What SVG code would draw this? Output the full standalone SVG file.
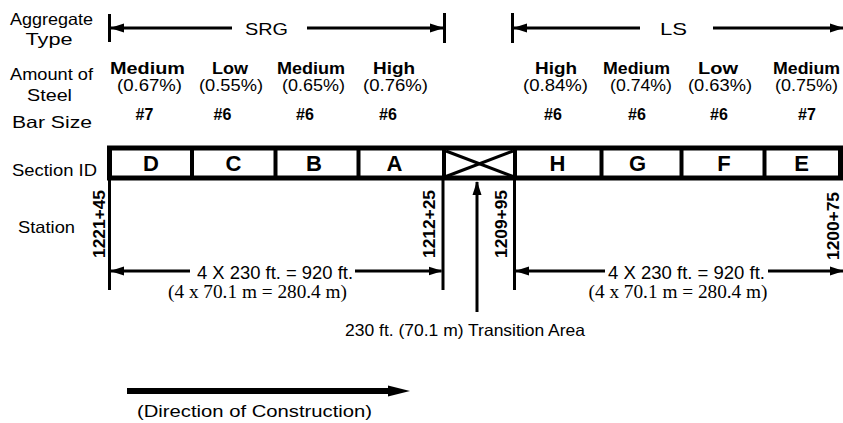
<svg xmlns="http://www.w3.org/2000/svg" width="843" height="423" viewBox="0 0 843 423">
<style>
text{font-family:"Liberation Sans",Arial,Helvetica,sans-serif;fill:#000}
.lbl{font-size:16.5px;text-anchor:middle}
.hd{font-size:16px;font-weight:bold;text-anchor:middle}
.pc{font-size:16.5px;text-anchor:middle}
.bs{font-size:16px;font-weight:bold;text-anchor:middle}
.sec{font-size:22px;font-weight:bold;text-anchor:middle}
.sta{font-size:17px;font-weight:bold;text-anchor:middle}
.dim{font-size:18.5px;text-anchor:middle}
.ser{font-family:"Liberation Serif","Times New Roman",serif;font-size:18.5px;text-anchor:middle}
.ln{stroke:#000;stroke-width:3;fill:none}
.bar{stroke:#000;stroke-width:5;fill:#fff}
.dv{stroke:#000;stroke-width:4}
</style>
<defs>
<marker id="ah" viewBox="0 0 14 10" refX="13" refY="5" markerWidth="14" markerHeight="10" markerUnits="userSpaceOnUse" orient="auto-start-reverse">
<path d="M0,0.5 L14,5 L0,9.5 Z" fill="#000"/>
</marker>
</defs>

<g id="row-labels">
<text class="lbl" x="51.5" y="25" textLength="83" lengthAdjust="spacingAndGlyphs">Aggregate</text>
<text class="lbl" x="49" y="45" textLength="47" lengthAdjust="spacingAndGlyphs">Type</text>
<text class="lbl" x="51.5" y="80" textLength="83" lengthAdjust="spacingAndGlyphs">Amount of</text>
<text class="lbl" x="49.5" y="101" textLength="45" lengthAdjust="spacingAndGlyphs">Steel</text>
<text class="lbl" x="52" y="128" textLength="80" lengthAdjust="spacingAndGlyphs">Bar Size</text>
<text class="lbl" x="54.5" y="176" textLength="85" lengthAdjust="spacingAndGlyphs">Section ID</text>
<text class="lbl" x="46.5" y="233" textLength="57" lengthAdjust="spacingAndGlyphs">Station</text>
</g>

<g id="aggregate-srg">
<line class="ln" x1="109.5" y1="14" x2="109.5" y2="42"/>
<line class="ln" x1="444.5" y1="13" x2="444.5" y2="43"/>
<text class="lbl" x="266.5" y="35" textLength="43" lengthAdjust="spacingAndGlyphs">SRG</text>
</g>
<g id="aggregate-ls">
<line class="ln" x1="512.5" y1="13" x2="512.5" y2="43"/>
<text class="lbl" x="673.5" y="35" textLength="27" lengthAdjust="spacingAndGlyphs">LS</text>
</g>

<g id="steel">
<text class="hd" x="147.5" y="74" textLength="75" lengthAdjust="spacingAndGlyphs">Medium</text>
<text class="hd" x="230" y="74" textLength="36" lengthAdjust="spacingAndGlyphs">Low</text>
<text class="hd" x="311" y="74" textLength="68" lengthAdjust="spacingAndGlyphs">Medium</text>
<text class="hd" x="394" y="74" textLength="42" lengthAdjust="spacingAndGlyphs">High</text>
<text class="hd" x="556" y="74" textLength="42" lengthAdjust="spacingAndGlyphs">High</text>
<text class="hd" x="636.5" y="74" textLength="67" lengthAdjust="spacingAndGlyphs">Medium</text>
<text class="hd" x="718" y="74" textLength="40" lengthAdjust="spacingAndGlyphs">Low</text>
<text class="hd" x="806.5" y="74" textLength="67" lengthAdjust="spacingAndGlyphs">Medium</text>
<text class="pc" x="149.5" y="91" textLength="65" lengthAdjust="spacingAndGlyphs">(0.67%)</text>
<text class="pc" x="231" y="91" textLength="64" lengthAdjust="spacingAndGlyphs">(0.55%)</text>
<text class="pc" x="313.5" y="91" textLength="63" lengthAdjust="spacingAndGlyphs">(0.65%)</text>
<text class="pc" x="395.5" y="91" textLength="65" lengthAdjust="spacingAndGlyphs">(0.76%)</text>
<text class="pc" x="555.5" y="91" textLength="65" lengthAdjust="spacingAndGlyphs">(0.84%)</text>
<text class="pc" x="641" y="91" textLength="62" lengthAdjust="spacingAndGlyphs">(0.74%)</text>
<text class="pc" x="720" y="91" textLength="64" lengthAdjust="spacingAndGlyphs">(0.63%)</text>
<text class="pc" x="806.5" y="91" textLength="63" lengthAdjust="spacingAndGlyphs">(0.75%)</text>
</g>

<g id="bar-size">
<text class="bs" x="144.5" y="120">#7</text>
<text class="bs" x="222.5" y="120">#6</text>
<text class="bs" x="305" y="120">#6</text>
<text class="bs" x="388" y="120">#6</text>
<text class="bs" x="553" y="120">#6</text>
<text class="bs" x="637" y="120">#6</text>
<text class="bs" x="719" y="120">#6</text>
<text class="bs" x="807" y="120">#7</text>
</g>

<g id="sections">
<rect class="bar" x="109.5" y="148" width="731" height="30"/>
<line class="dv" x1="192" y1="148" x2="192" y2="178"/>
<line class="dv" x1="275.5" y1="148" x2="275.5" y2="178"/>
<line class="dv" x1="358.5" y1="148" x2="358.5" y2="178"/>
<line class="dv" x1="444" y1="148" x2="444" y2="178"/>
<line class="dv" x1="515" y1="148" x2="515" y2="178"/>
<line class="dv" x1="601.5" y1="148" x2="601.5" y2="178"/>
<line class="dv" x1="681.5" y1="148" x2="681.5" y2="178"/>
<line class="dv" x1="764.5" y1="148" x2="764.5" y2="178"/>
<line class="ln" x1="446" y1="151" x2="513" y2="176.5"/>
<line class="ln" x1="446" y1="176.5" x2="513" y2="151"/>
<text class="sec" x="151" y="171">D</text>
<text class="sec" x="233.5" y="171">C</text>
<text class="sec" x="314" y="171">B</text>
<text class="sec" x="394.5" y="171">A</text>
<text class="sec" x="557.5" y="171">H</text>
<text class="sec" x="637.5" y="171">G</text>
<text class="sec" x="724" y="171">F</text>
<text class="sec" x="801.5" y="171">E</text>
</g>

<g id="stations">
<text class="sta" transform="translate(104.5,224) rotate(-90)" textLength="68" lengthAdjust="spacingAndGlyphs">1221+45</text>
<text class="sta" transform="translate(435,224) rotate(-90)" textLength="68" lengthAdjust="spacingAndGlyphs">1212+25</text>
<text class="sta" transform="translate(507,224) rotate(-90)" textLength="68" lengthAdjust="spacingAndGlyphs">1209+95</text>
<text class="sta" transform="translate(839,226) rotate(-90)" textLength="68" lengthAdjust="spacingAndGlyphs">1200+75</text>
</g>

<g id="dimensions">
<text class="dim" x="275" y="279" textLength="156" lengthAdjust="spacingAndGlyphs">4 X 230 ft. = 920 ft.</text>
<text class="ser" x="257.5" y="298" textLength="179" lengthAdjust="spacingAndGlyphs">(4 x 70.1 m = 280.4 m)</text>
<text class="dim" x="686.5" y="279" textLength="157" lengthAdjust="spacingAndGlyphs">4 X 230 ft. = 920 ft.</text>
<text class="ser" x="678" y="298" textLength="179" lengthAdjust="spacingAndGlyphs">(4 x 70.1 m = 280.4 m)</text>
<text class="lbl" x="465" y="336" textLength="240" lengthAdjust="spacingAndGlyphs">230 ft. (70.1 m) Transition Area</text>
</g>

<g id="direction">
<line x1="127" y1="391" x2="392" y2="391" stroke="#000" stroke-width="6"/>
<polygon points="388,385.5 410,391 388,396.5" fill="#000"/>
<text class="lbl" x="254.5" y="417" textLength="235" lengthAdjust="spacingAndGlyphs">(Direction of Construction)</text>
</g>

<g id="connectors">
<line class="ln" x1="111" y1="28" x2="232" y2="28" marker-start="url(#ah)"/>
<line class="ln" x1="307" y1="28" x2="443" y2="28" marker-end="url(#ah)"/>
<line class="ln" x1="514" y1="28" x2="640" y2="28" marker-start="url(#ah)"/>
<line class="ln" x1="713" y1="28" x2="843" y2="28" marker-end="url(#ah)"/>
<line class="ln" x1="109.5" y1="178" x2="109.5" y2="290"/>
<line class="ln" x1="443" y1="178" x2="443" y2="290"/>
<line class="ln" x1="514.5" y1="178" x2="514.5" y2="290"/>
<line class="ln" x1="111" y1="271" x2="190" y2="271" marker-start="url(#ah)"/>
<line class="ln" x1="355" y1="271" x2="441.5" y2="271" marker-end="url(#ah)"/>
<line class="ln" x1="516" y1="271" x2="605" y2="271" marker-start="url(#ah)"/>
<line class="ln" x1="768" y1="271" x2="843" y2="271" marker-end="url(#ah)"/>
<line class="ln" x1="477" y1="312" x2="477" y2="182" marker-end="url(#ah)"/>
</g>
</svg>
